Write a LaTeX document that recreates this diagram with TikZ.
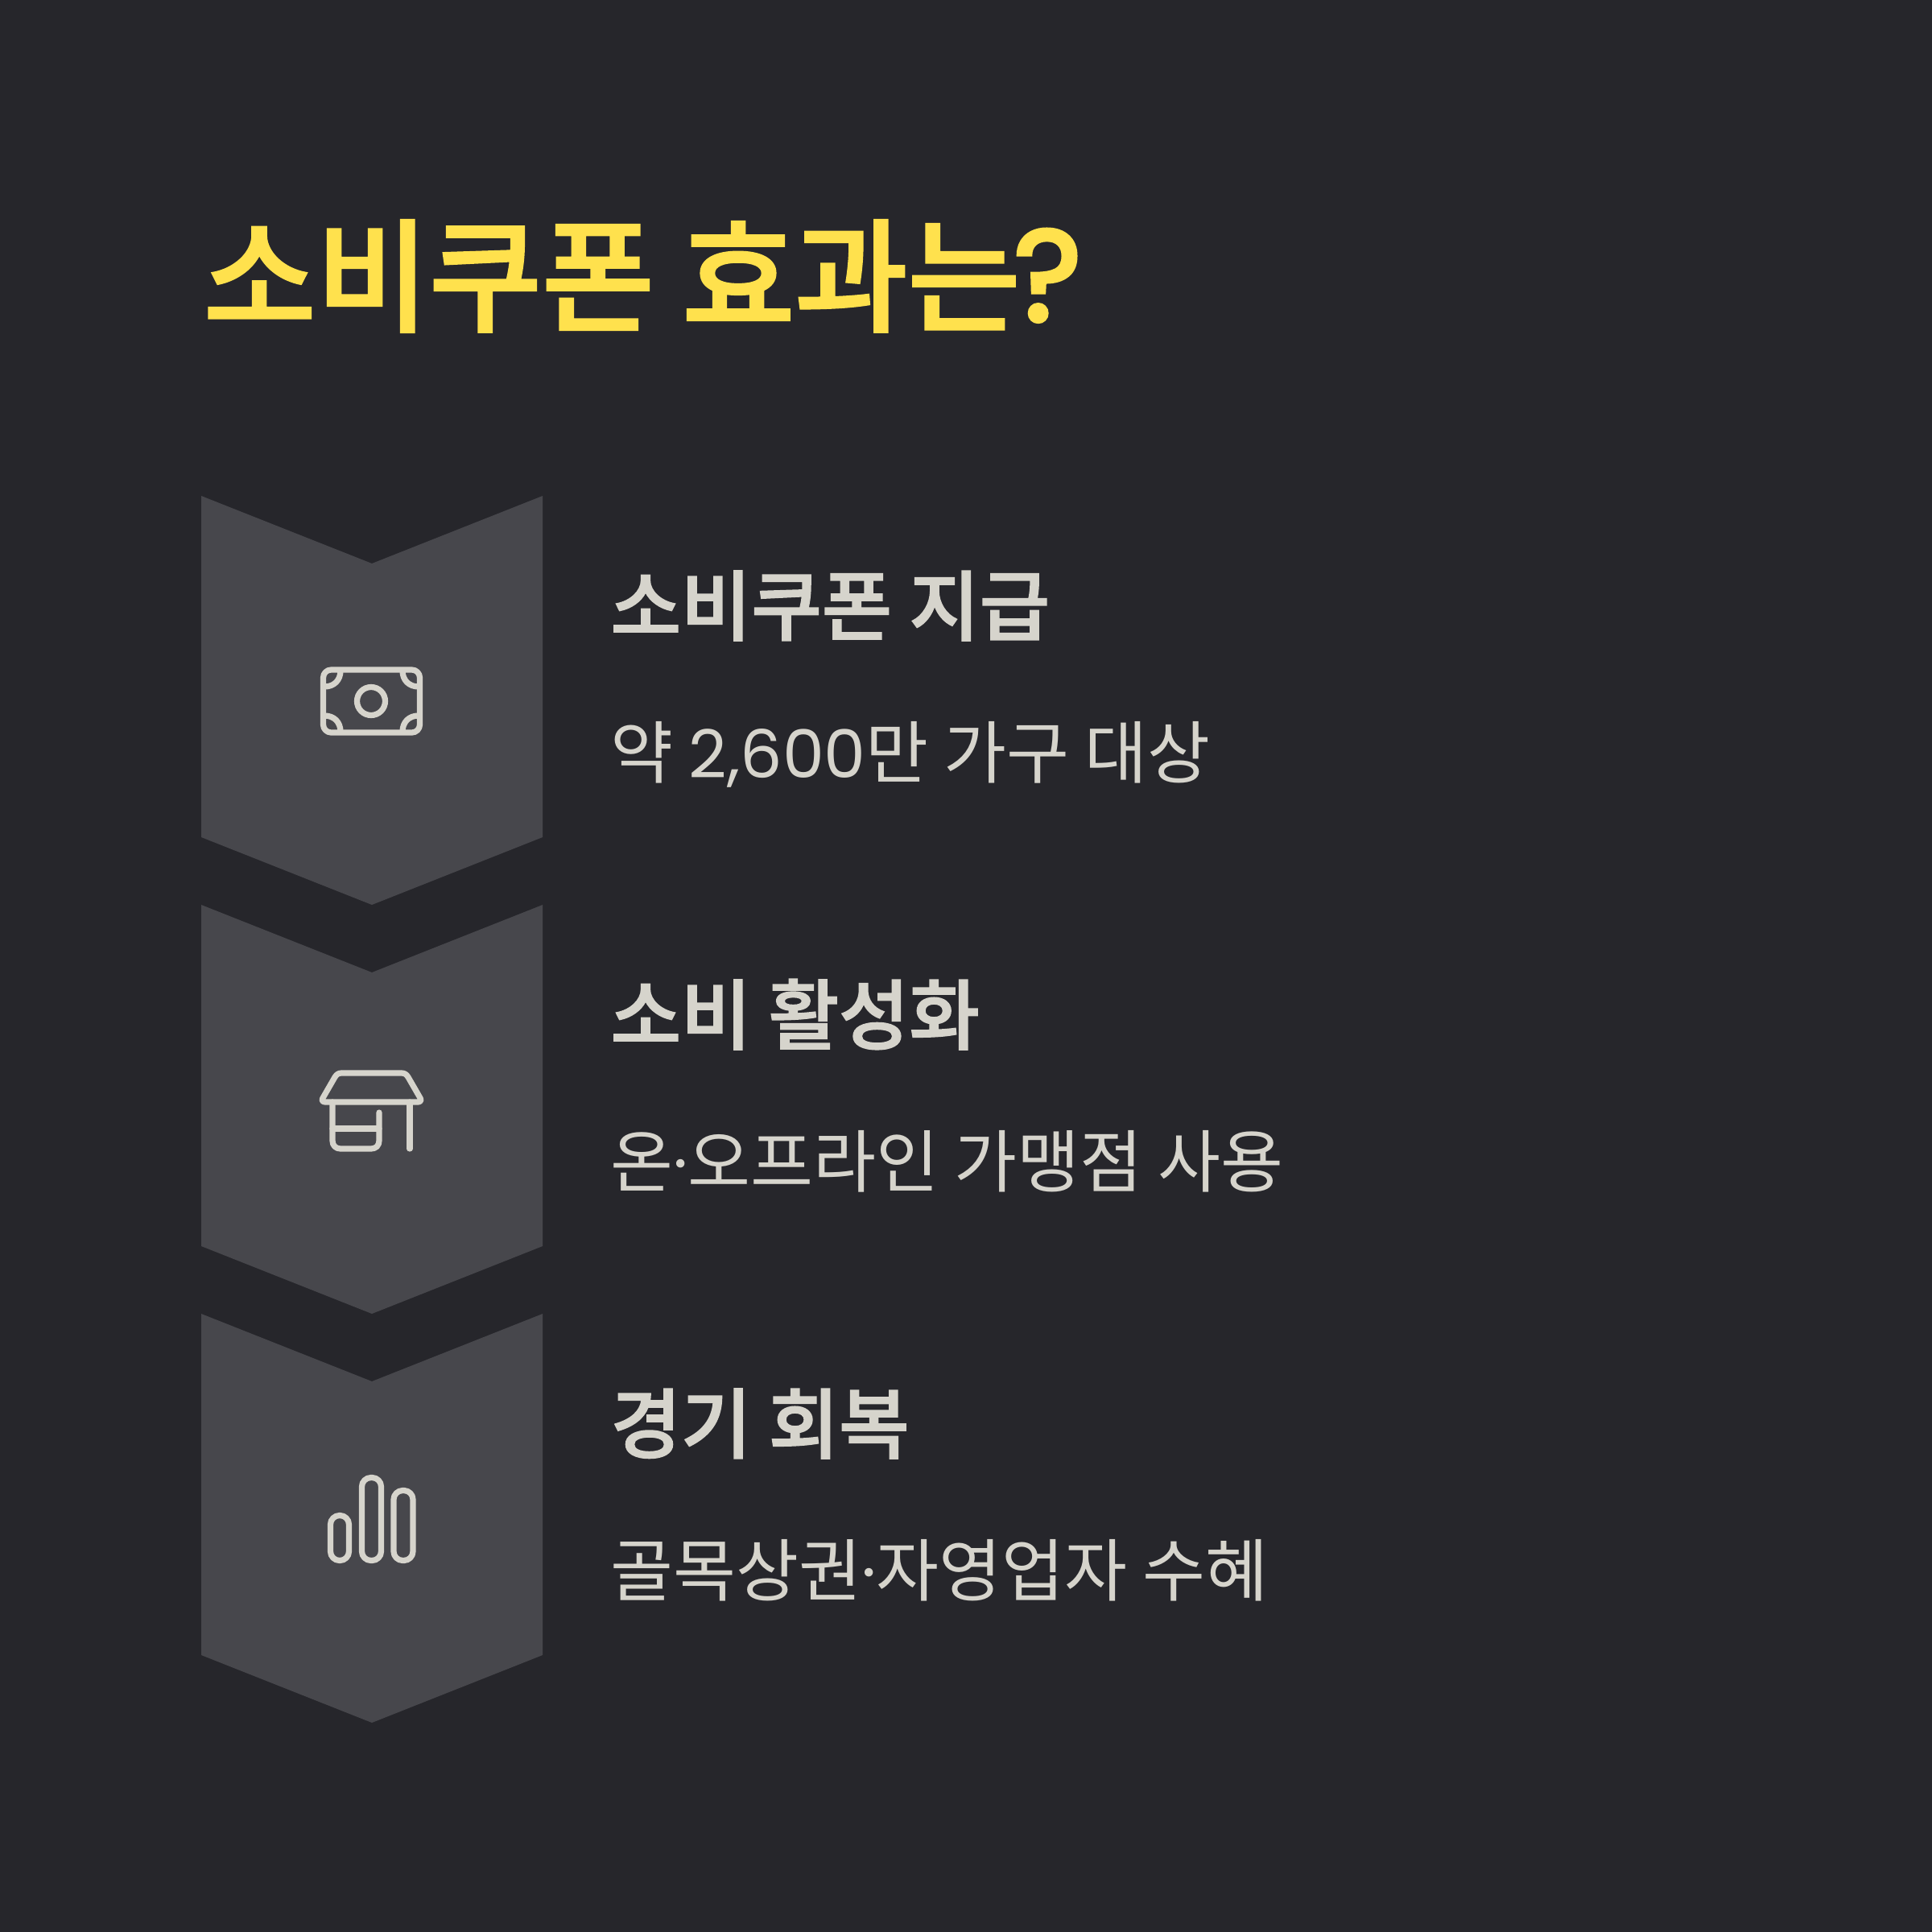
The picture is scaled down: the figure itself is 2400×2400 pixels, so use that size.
\documentclass[tikz,border=0pt]{standalone}
\usepackage{fontspec}
\usetikzlibrary{positioning}
\setmainfont{Noto Sans CJK KR}
\newfontfamily\latinnum{Poppins}
\newfontfamily\latinmed[FakeBold=1.2]{Poppins Medium}
\newfontfamily\cjkmed[FakeBold=1.8]{Noto Sans CJK KR Medium}
\definecolor{bgdark}{HTML}{26262B}
\definecolor{chevfill}{HTML}{47474C}
\definecolor{titleyellow}{HTML}{FFE14D}
\definecolor{bodygray}{HTML}{D6D4CC}
\newcommand{\numfont}{\fontsize{23.5}{28}\latinnum}
\tikzset{
  headline/.style={anchor=base west, inner sep=0pt, text=bodygray, font=\fontsize{27}{34}\cjkmed},
  subline/.style={anchor=base west, inner sep=0pt, text=bodygray, font=\fontsize{24.1}{30}\selectfont},
  chevron/.style={fill=chevfill, draw=none},
  iconline/.style={draw=bodygray, line width=2.05pt, line cap=round, line join=round},
  iconbar/.style={iconline, rounded corners=3.2pt}
}
\begin{document}
\begin{tikzpicture}[x=0.01cm,y=-0.01cm]
        % Background
        \fill[bgdark] (0,0) rectangle (2400,2400);
        \useasboundingbox (0,0) rectangle (2400,2400);
        % Title
        \node[anchor=base west, inner sep=0pt, text=titleyellow, font=\fontsize{43.3}{50}\cjkmed] (title) at (252,400) {소비쿠폰 효과는\kern-3pt{\latinmed\fontsize{47}{50}\selectfont ?}};
        % Chevrons
        \fill[chevron] (250,616) -- (462,700) -- (674,616) -- (674,1040) -- (462,1124) -- (250,1040) -- cycle;
        \fill[chevron] (250,1124) -- (462,1208) -- (674,1124) -- (674,1548) -- (462,1632) -- (250,1548) -- cycle;
        \fill[chevron] (250,1632) -- (462,1716) -- (674,1632) -- (674,2056) -- (462,2140) -- (250,2056) -- cycle;
        % Banknote icon
        \draw[iconline, rounded corners=2.8pt] (401.5,832) rectangle (521.5,910);
        \draw[iconline] (461,871) circle (17.5);
        \draw[iconline] (403,853) .. controls (415,853) and (423,845) .. (423,833);
        \draw[iconline] (520,853) .. controls (508,853) and (500,845) .. (500,833);
        \draw[iconline] (403,889) .. controls (415,889) and (423,897) .. (423,909);
        \draw[iconline] (520,889) .. controls (508,889) and (500,897) .. (500,909);
        % Shop icon
        \draw[iconline] (424,1333) -- (499,1333) .. controls (503,1333) and (505,1335) .. (507,1338) -- (522,1364) .. controls (524,1367) and (522,1369) .. (519,1369) -- (404,1369) .. controls (401,1369) and (399,1367) .. (401,1364) -- (416,1338) .. controls (418,1335) and (420,1333) .. (424,1333) -- cycle;
        \draw[iconline] (413,1369) -- (413,1417) .. controls (413,1423) and (417,1427) .. (423,1427) -- (461,1427) .. controls (467,1427) and (471,1423) .. (471,1417) -- (471,1382);
        \draw[iconline] (413,1402) -- (471,1402);
        \draw[iconline] (509,1369) -- (509,1427);
        % Bars icon
        \draw[iconbar] (410.5,1882.5) rectangle (433.5,1938.5);
        \draw[iconbar] (449.5,1835.5) rectangle (473.5,1938.5);
        \draw[iconbar] (489,1851.5) rectangle (513,1938.5);
        % Step texts
        \node[headline] (headA) at (758,788) {소비쿠폰 지급};
        \node[subline] (subA) at (758,966) {약 {\numfont 2,600}만 가구 대상};
        \node[headline] (headB) at (758,1296) {소비 활성화};
        \node[subline] (subB) at (758,1474) {온{\latinnum ·}오프라인 가맹점 사용};
        \node[headline] (headC) at (758,1804) {경기 회복};
        \node[subline] (subC) at (758,1982) {골목상권{\latinnum ·}자영업자 수혜};
      \end{tikzpicture}
\end{document}
